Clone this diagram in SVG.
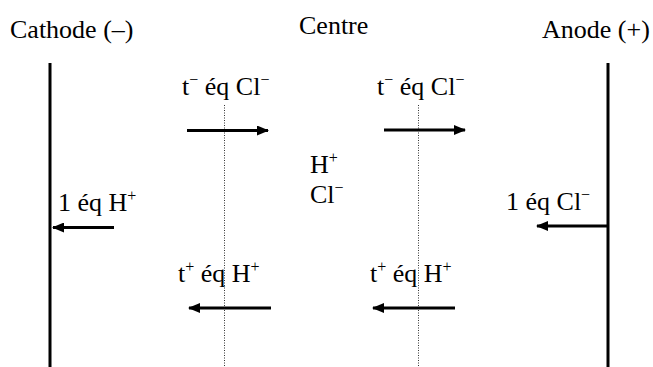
<svg xmlns="http://www.w3.org/2000/svg" width="653" height="367" viewBox="0 0 653 367">
<style>
text{font-family:"Liberation Serif","Times New Roman",serif;font-size:26px;fill:#000}
.sup{font-size:16px}
.electrode{stroke:#000;stroke-width:3;fill:none}
.membrane{stroke:#333;stroke-width:1;stroke-dasharray:1 1.5;fill:none}
.arrow{stroke:#000;stroke-width:3;fill:none;marker-end:url(#ah)}
</style>
<defs>
<marker id="ah" viewBox="0 0 12 10" refX="11" refY="5" markerWidth="12" markerHeight="10" markerUnits="userSpaceOnUse" orient="auto">
<path d="M0,0 L12,5 L0,10 Z" fill="#000"/>
</marker>
</defs>
<rect width="653" height="367" fill="#fff"/>
<g id="cathode">
<line class="electrode" x1="50" y1="63" x2="50" y2="367"/>
<text x="10" y="38">Cathode (–)</text>
</g>
<g id="centre">
<text x="299" y="34">Centre</text>
<text x="310" y="173">H<tspan class="sup" dy="-10">+</tspan></text>
<text x="310" y="203">Cl<tspan class="sup" dy="-10">−</tspan></text>
</g>
<g id="anode">
<line class="electrode" x1="608" y1="63" x2="608" y2="367"/>
<text x="542" y="38">Anode (+)</text>
</g>
<g id="membrane-left">
<line class="membrane" x1="224.5" y1="105" x2="224.5" y2="367"/>
<text x="182" y="95">t<tspan class="sup" dy="-10">−</tspan><tspan dy="10"> éq Cl</tspan><tspan class="sup" dy="-10">−</tspan></text>
<text x="178" y="282">t<tspan class="sup" dy="-10">+</tspan><tspan dy="10"> éq H</tspan><tspan class="sup" dy="-10">+</tspan></text>
</g>
<g id="membrane-right">
<line class="membrane" x1="418.5" y1="105" x2="418.5" y2="367"/>
<text x="377" y="95">t<tspan class="sup" dy="-10">−</tspan><tspan dy="10"> éq Cl</tspan><tspan class="sup" dy="-10">−</tspan></text>
<text x="370" y="282">t<tspan class="sup" dy="-10">+</tspan><tspan dy="10"> éq H</tspan><tspan class="sup" dy="-10">+</tspan></text>
</g>
<g id="label-cathode-flux">
<text x="58" y="211">1 éq H<tspan class="sup" dy="-10">+</tspan></text>
</g>
<g id="label-anode-flux">
<text x="506" y="210">1 éq Cl<tspan class="sup" dy="-10">−</tspan></text>
</g>
<g id="connectors">
<line class="arrow" x1="187" y1="130.5" x2="268" y2="130.5"/>
<line class="arrow" x1="384" y1="130" x2="465" y2="130"/>
<line class="arrow" x1="114" y1="227.5" x2="53" y2="227.5"/>
<line class="arrow" x1="607" y1="226" x2="537" y2="226"/>
<line class="arrow" x1="271" y1="308" x2="189" y2="308"/>
<line class="arrow" x1="455" y1="308" x2="373" y2="308"/>
</g>
</svg>
